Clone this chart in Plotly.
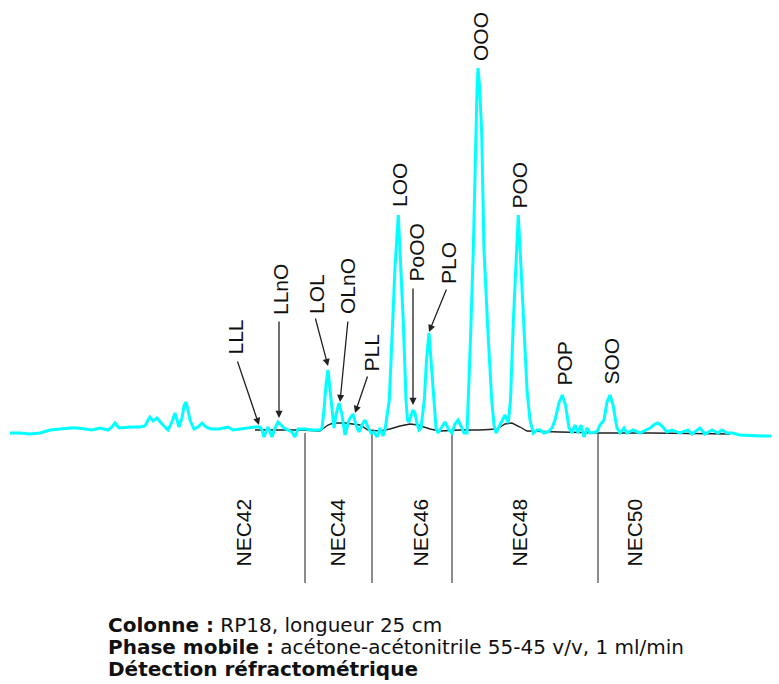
import plotly.graph_objects as go

# ---------------- data (retention axis in arbitrary units, signal above baseline) -------------
t = [10, 20, 30, 40, 50, 60, 70, 78, 85, 92, 100, 108, 112, 115, 119, 130, 140, 145, 148, 150,
     153, 157, 162, 168, 172, 175, 179, 182, 184, 186, 188, 190, 194, 198, 202, 206, 211, 218,
     224, 228, 233, 240, 248, 255, 260, 262, 264, 266, 268, 270, 272, 275, 278, 281, 284, 288,
     292, 295, 298, 305, 312, 320, 322, 324, 326, 328, 330, 332, 334, 336, 339, 342, 345, 349,
     353, 356, 359, 362, 365, 368, 371, 374, 377, 380, 383, 385, 389.3, 392.7, 395, 398.3, 401,
     403.3, 406, 407.5, 409, 411, 413, 415, 417, 419, 421, 424.3, 426.5, 429, 431, 433.3, 436,
     438, 441, 445, 449, 452, 455, 458, 461, 464, 467, 468.3, 470.7, 473.3, 475.7, 477, 478,
     479.5, 481.7, 484, 488, 491.7, 494, 496, 500, 505, 508.3, 510.5, 513.3, 515.5, 518.3, 521,
     524, 527, 530, 533.3, 537, 540, 544, 548, 552, 555, 559, 562.3, 565.5, 569, 572, 575, 578,
     581, 584, 587, 590, 594, 597, 600, 604, 607, 610, 613, 617, 620, 624, 627, 633, 640, 646,
     650, 655, 658, 662, 667, 672, 680, 688, 692, 700, 705, 712, 718, 722, 727, 732, 740, 760,
     779]
signal = [0, 0, -1, 0, 3, 4, 5, 5, 4, 3, 5, 3, 6, 10, 5, 6, 6, 7, 13, 16,
          12, 15, 9, 3, 11, 20, 6, 15, 27, 31, 23, 13, 4, 6, 10, 6, 4, 4,
          5, 6, 3, 4, 5, 6, 6, 3, -4, 1, 6, 1, -4, 5, 11, 8, 5, 3,
          1, -4, 4, 4, 3, 3, 5, 23, 48, 63, 43, 18, 5, 18, 30, 18, -2, 13,
          19, 8, 1, 8, 13, 6, 0, 1, -4, 5, -3, 3, 33, 111, 166, 218, 166,
          111, 33, 13, 11, 18, 23, 20, 9, 3, 5, 33, 73, 100, 73, 33, 5,
          0, 5, 11, 3, 0, 9, 13, 7, 0, 0, 33, 100, 183, 300, 343, 365,
          348, 300, 183, 100, 33, 8, 0, 8, 18, 10, 33, 111, 166, 218, 166,
          111, 43, 13, 0, 3, 3, 0, 1, 5, 13, 30, 38, 28, 5, 0, 8, 0,
          8, -4, 5, 0, 1, 1, 8, 13, 31, 38, 28, 5, 0, 5, 0, 3, 0, 3,
          5, 9, 10, 7, 1, 3, 0, 3, -1, 5, -1, 3, 0, 3, 0, 0, -2, -3,
          -3]

# drawn baseline (black)
base_t = [255, 300, 320, 328, 333, 345, 360, 368, 380, 390, 400, 410, 418, 430, 440, 460,
          480, 497, 505, 512, 520, 527, 560, 600, 650, 700, 730]
base_v = [3, 3, 2, 8, 10, 10, 8, 3, 2, 4, 7, 9, 8, 4, 2, 3,
          3, 4, 9, 10, 6, 2, 1, 0, 0, -1, -1]

# NEC zone boundaries and zone names
nec_bounds = [305, 372, 452, 598]
nec_names = ["NEC42", "NEC44", "NEC46", "NEC48", "NEC50"]

# peak names
peak_names = ["LLL", "LLnO", "LOL", "OLnO", "PLL", "LOO", "PoOO", "PLO", "OOO", "POO", "POP", "SOO"]

# ---------------- layout helpers ----------------
peak_label_pos = {
    "LLL": (235, 95.5), "LLnO": (280, 143), "LOL": (316, 139), "OLnO": (347, 147),
    "PLL": (371, 79.5), "LOO": (399, 248), "PoOO": (416, 180.5), "PLO": (448, 170),
    "OOO": (480, 396), "POO": (519, 247.5), "POP": (564, 69.5), "SOO": (611, 71.5),
}
arrows = {  # label: (tail, tip)
    "LLL": ((237, 73), (259, 8)),
    "LLnO": ((279, 113), (279, 15)),
    "LOL": ((315, 116), (328, 67)),
    "OLnO": ((348, 113), (340, 31)),
    "PLL": ((368, 58), (355, 20)),
    "PoOO": ((413, 146), (413, 28)),
    "PLO": ((447, 145), (429, 101)),
}
nec_label_x = [243, 337, 420, 519, 634]
nec_label_y = -99.5
nec_line_bottom = -150

fig = go.Figure()

# zone separators
sx, sy = [], []
for b in nec_bounds:
    sx += [b, b, None]
    sy += [0, nec_line_bottom, None]
fig.add_trace(go.Scatter(x=sx, y=sy, mode="lines", line=dict(color="#666666", width=1.5),
                         hoverinfo="skip", showlegend=False))

fig.add_trace(go.Scatter(x=base_t, y=base_v, mode="lines",
                         line=dict(color="#222222", width=1.4), showlegend=False))
fig.add_trace(go.Scatter(x=t, y=signal, mode="lines",
                         line=dict(color="#00FFFF", width=3), showlegend=False))

ann = []
lab_font = dict(family="Liberation Sans, Arial, sans-serif", size=21, color="#111111")
for name in peak_names:
    px, py = peak_label_pos[name]
    ann.append(dict(x=px, y=py, xref="x", yref="y", text=name, showarrow=False,
                    textangle=-90, font=lab_font, xanchor="center", yanchor="middle"))
for name, (tail, tip) in arrows.items():
    ann.append(dict(x=tip[0], y=tip[1], ax=tail[0], ay=tail[1], xref="x", yref="y",
                    axref="x", ayref="y", text="", showarrow=True, arrowhead=2,
                    arrowsize=1.1, arrowwidth=1.3, arrowcolor="#222222"))
for name, nx in zip(nec_names, nec_label_x):
    ann.append(dict(x=nx, y=nec_label_y, xref="x", yref="y", text=name, showarrow=False,
                    textangle=-90, font=lab_font, xanchor="center", yanchor="middle"))

foot_font = dict(family="DejaVu Sans, sans-serif", size=20, color="#111111")
foot_lines = [
    "<b>Colonne :</b> RP18, longueur 25 cm",
    "<b>Phase mobile :</b> acétone-acétonitrile 55-45 v/v, 1 ml/min",
    "<b>Détection réfractométrique</b>",
]
foot_y = [-192, -214, -236]
for line, fy in zip(foot_lines, foot_y):
    ann.append(dict(x=106, y=fy, xref="x", yref="y", text=line, showarrow=False,
                    font=foot_font, xanchor="left", yanchor="middle"))

# the page adds an 8px body margin; the figure is sized and ranged to compensate
fig.update_layout(
    width=771, height=676, margin=dict(l=0, r=0, t=0, b=0),
    paper_bgcolor="white", plot_bgcolor="white",
    xaxis=dict(range=[8, 779], visible=False, fixedrange=True),
    yaxis=dict(range=[-251, 425], visible=False, fixedrange=True),
    annotations=ann, showlegend=False,
)

fig.write_html("out.html")
